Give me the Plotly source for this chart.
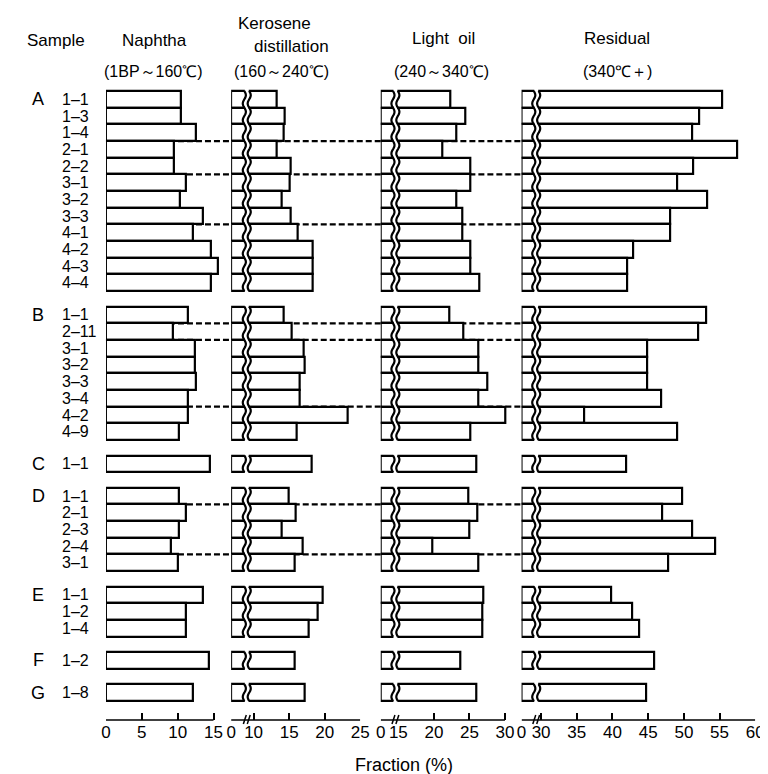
import numpy as np
import plotly.graph_objects as go

# ---------------- data ----------------
groups = ["A"] * 12 + ["B"] * 8 + ["C"] + ["D"] * 5 + ["E"] * 3 + ["F"] + ["G"]
samples = ["1-1", "1-3", "1-4", "2-1", "2-2", "3-1", "3-2", "3-3", "4-1", "4-2", "4-3", "4-4",
           "1-1", "2-11", "3-1", "3-2", "3-3", "3-4", "4-2", "4-9",
           "1-1",
           "1-1", "2-1", "2-3", "2-4", "3-1",
           "1-1", "1-2", "1-4",
           "1-2",
           "1-8"]
naphtha = [10.4, 10.4, 12.6, 9.5, 9.5, 11.2, 10.3, 13.5, 12.2, 14.6, 15.6, 14.6,
           11.5, 9.3, 12.4, 12.4, 12.5, 11.4, 11.4, 10.2,
           14.5,
           10.2, 11.2, 10.2, 9.0, 10.0,
           13.5, 11.2, 11.2,
           14.3,
           12.2]
kerosene = [13.3, 14.4, 14.2, 13.3, 15.2, 15.1, 13.9, 15.2, 16.2, 18.3, 18.3, 18.3,
            14.3, 15.3, 17.1, 17.2, 16.5, 16.5, 23.3, 16.0,
            18.2,
            15.0, 15.9, 13.9, 16.9, 15.8,
            19.7, 19.0, 17.8,
            15.8,
            17.2]
light_oil = [22.3, 24.4, 23.2, 21.2, 25.2, 25.2, 23.1, 24.0, 24.0, 25.2, 25.2, 26.4,
             22.2, 24.2, 26.3, 26.3, 27.5, 26.3, 30.1, 25.1,
             26.0,
             24.9, 26.1, 25.0, 19.8, 26.2,
             26.9, 26.8, 26.8,
             23.7,
             26.0]
residual = [55.4, 52.2, 51.1, 57.4, 51.3, 49.1, 53.2, 48.1, 48.1, 42.9, 42.0, 42.0,
            53.1, 52.0, 44.8, 44.8, 44.8, 46.8, 36.0, 49.0,
            41.9,
            49.8, 46.9, 51.1, 54.4, 47.8,
            39.8, 42.8, 43.7,
            45.9,
            44.7]

ticks_naphtha = [0, 5, 10, 15]
ticks_kerosene = [10, 15, 20, 25]
ticks_light = [15, 20, 25, 30]
ticks_residual = [30, 35, 40, 45, 50, 55, 60]

# ---------------- layout helpers ----------------
W, H = 768, 774
FONT = "Liberation Sans, Arial, sans-serif"
GAP = 0.93  # gap between sample groups, in rows


def px(x):
    return x / W


def py(y):
    return 1 - y / H


# row positions
ypos = []
pos = 0.0
for i, g in enumerate(groups):
    if i > 0 and g != groups[i - 1]:
        pos += GAP
    ypos.append(pos)
    pos += 1
last_edge = ypos[-1] + 0.5
top_px, bottom_rows_px, axis_px = 83, 693, 712
row_px = (bottom_rows_px - top_px) / (last_edge + 0.5)
y_top_range = -0.5 - 2 / row_px
y_bot_range = last_edge + 0.3
y_domain = [py(bottom_rows_px + 0.3 * row_px), py(top_px - 2)]

fig = go.Figure()

# panel axes: (name, left px, px per unit, range, tickvals, ticktext, axis-line span)
s1, s2, s3, s4 = 7.333, 7.27, 7.27, 7.3
axes = [
    ("x", 92, s1, (0, 15.9), ticks_naphtha, [str(t) for t in ticks_naphtha], (0, 15)),
    ("x2", 220, s2, (0, 14 / s2), [0, 14 / s2], ["0", ""], (0, 14 / s2)),
    ("x3", 238, s2, (10 - 5 / s2, 25), [10 - 5 / s2] + ticks_kerosene,
     [""] + [str(t) for t in ticks_kerosene], (10 - 5 / s2, 25)),
    ("x4", 373, s3, (0, 13 / s3), [0, 13 / s3], ["0", ""], (0, 13 / s3)),
    ("x5", 390, s3, (15 - 1 / s3, 30.4), [15 - 1 / s3] + ticks_light,
     [""] + [str(t) for t in ticks_light], (15 - 1 / s3, 30)),
    ("x6", 517, s4, (0, 13 / s4), [0, 13 / s4], ["0", ""], (0, 13 / s4)),
    ("x7", 534, s4, (30 - 3 / s4, 60), [30 - 3 / s4] + ticks_residual,
     [""] + [str(t) for t in ticks_residual], (30 - 3 / s4, 60)),
]

series_for_axis = {"x": naphtha, "x2": kerosene, "x3": kerosene, "x4": light_oil,
                   "x5": light_oil, "x6": residual, "x7": residual}

shapes = []
for name, left, sc, rng, tv, tt, span in axes:
    fig.add_trace(go.Bar(
        orientation="h", y=ypos, x=series_for_axis[name], base=0, width=1,
        marker=dict(color="white", line=dict(color="black", width=2.2)),
        xaxis=name, yaxis="y", showlegend=False, hoverinfo="skip"))
    key = "xaxis" if name == "x" else "xaxis" + name[1:]
    right = left + (rng[1] - rng[0]) * sc
    fig.layout[key] = dict(
        domain=[px(left), px(right)], range=list(rng), anchor="free",
        position=py(axis_px), side="bottom",
        showline=False,
        ticks="inside", ticklen=7, tickwidth=1.6, tickcolor="black",
        tickmode="array", tickvals=tv, ticktext=tt,
        tickfont=dict(family=FONT, size=17, color="black"),
        showgrid=False, zeroline=False, fixedrange=True)
    # axis base line, drawn only over the scale span
    shapes.append(dict(type="line", xref=name, yref="paper", x0=span[0], x1=span[1],
                       y0=py(axis_px), y1=py(axis_px),
                       line=dict(color="black", width=1.6)))

fig.update_layout(
    yaxis=dict(domain=y_domain, range=[y_bot_range, y_top_range], visible=False,
               showgrid=False, zeroline=False, fixedrange=True),
    width=W, height=H, margin=dict(l=0, r=0, t=0, b=0),
    paper_bgcolor="white", plot_bgcolor="rgba(0,0,0,0)",
    barmode="overlay", bargap=0, showlegend=False,
)

# wavy break lines for each broken panel and each group
group_spans = []
start = 0
for i in range(1, len(groups) + 1):
    if i == len(groups) or groups[i] != groups[start]:
        group_spans.append((ypos[start] - 0.5, ypos[i - 1] + 0.5))
        start = i
breaks = [(234, 238), (386, 390), (530, 534)]
for (xs, xm) in breaks:
    for (y0, y1) in group_spans:
        yy = np.linspace(y0, y1, int((y1 - y0) * 12) + 2)
        for xc in (xs - 0.5, xm + 0.5):
            xx = xc + 1.6 * np.sin(2 * np.pi * (yy - y0) / 1.0)
            path = "M " + " L ".join(f"{px(a):.5f},{b:.4f}" for a, b in zip(xx, yy))
            shapes.append(dict(type="path", path=path, xref="paper", yref="y",
                               line=dict(color="black", width=2.2), layer="above"))
    # break mark on the axis line
    for xc in (xs, xm):
        shapes.append(dict(type="line", xref="paper", yref="paper",
                           x0=px(xc - 1.5), x1=px(xc + 1.5),
                           y0=py(axis_px + 4), y1=py(axis_px - 5),
                           line=dict(color="black", width=1.5)))
    shapes.append(dict(type="line", xref="paper", yref="paper",
                       x0=px(xs), x1=px(xm), y0=py(axis_px), y1=py(axis_px),
                       line=dict(color="black", width=1.5)))

# dashed connector lines where the first number of sample changes within a group
segments = [(92, 220), (238, 373), (390, 517)]
for i in range(len(samples) - 1):
    if groups[i] == groups[i + 1] and samples[i].split("-")[0] != samples[i + 1].split("-")[0]:
        yb = ypos[i] + 0.5
        for a, b in segments:
            shapes.append(dict(type="line", xref="paper", yref="y", x0=px(a), x1=px(b),
                               y0=yb, y1=yb, layer="below",
                               line=dict(color="black", width=2.2, dash="6px,3px")))
fig.update_layout(shapes=shapes)

# labels
ann = []
for i, (g, s) in enumerate(zip(groups, samples)):
    if i == 0 or g != groups[i - 1]:
        ann.append(dict(text=g, x=px(23), y=ypos[i], xref="paper", yref="y",
                        xanchor="center", yanchor="middle", showarrow=False,
                        font=dict(family=FONT, size=18, color="black")))
    ann.append(dict(text=s.replace("-", "–"), x=px(45), y=ypos[i], xref="paper", yref="y",
                    xanchor="left", yanchor="middle", showarrow=False,
                    font=dict(family=FONT, size=16, color="black")))

headers = [
    ("Sample", 41, 32, 17),
    ("Naphtha", 142, 32, 17),
    ("(1BP～160℃)", 141, 63, 16),
    ("Kerosene", 264, 16, 17),
    ("distillation", 282, 39, 17),
    ("(160～240℃)", 271, 63, 16),
    ("Light  oil", 437, 31, 17),
    ("(240～340℃)", 435, 63, 16),
    ("Residual", 615, 31, 17),
    ("(340℃＋)", 615, 63, 16),
    ("Fraction (%)", 397, 757, 18),
]
for t, x, y, s in headers:
    ann.append(dict(text=t, x=px(x), y=py(y), xref="paper", yref="paper",
                    xanchor="center", yanchor="middle", showarrow=False,
                    font=dict(family=FONT, size=s, color="black")))
fig.update_layout(annotations=ann)

fig.write_html("out.html")
